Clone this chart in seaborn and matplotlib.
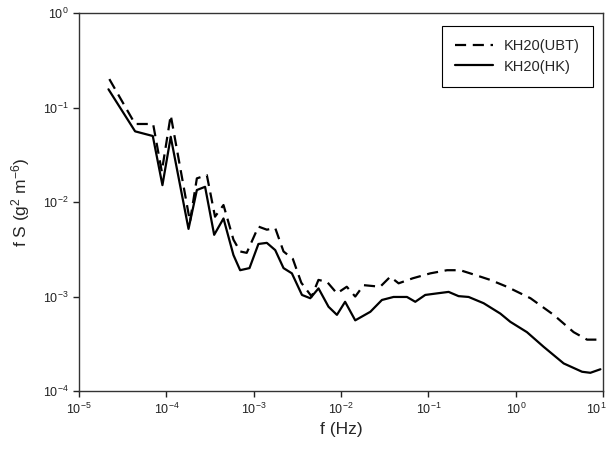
import matplotlib
matplotlib.use("Agg")
import matplotlib.pyplot as plt
import matplotlib.transforms as mtransforms
import seaborn as sns

# frequencies (Hz) and f*S values
freq_ubt = [2.22e-5, 4.38e-5, 7.04e-5, 8.85e-5, 1.12e-4, 1.86e-4, 2.23e-4, 2.9e-4,
            3.6e-4, 4.5e-4, 5.85e-4, 6.98e-4, 8.3e-4, 1.13e-3, 1.41e-3, 1.76e-3,
            2.19e-3, 2.8e-3, 3.5e-3, 4.6e-3, 5.5e-3, 6.9e-3, 8.95e-3, 1.16e-2,
            1.45e-2, 1.81e-2, 2.8e-2, 3.65e-2, 4.55e-2, 6.6e-2, 0.105, 0.163,
            0.231, 0.344, 0.51, 0.79, 1.47, 2.71, 4.59, 6.53, 9.29]
fs_ubt = [0.2, 0.067, 0.067, 0.021, 0.083, 0.0062, 0.0178, 0.0193,
          0.007, 0.0093, 0.004, 0.003, 0.0029, 0.0055, 0.0051, 0.0053,
          0.003, 0.0025, 0.0014, 0.001, 0.0015, 0.00143, 0.00108, 0.00127,
          0.001, 0.00132, 0.00127, 0.00162, 0.00138, 0.00156, 0.00176, 0.0019,
          0.0019, 0.00169, 0.0015, 0.00127, 0.00096, 0.00064, 0.00042, 0.00035, 0.00035]

freq_hk = [2.17e-5, 4.38e-5, 6.98e-5, 9.0e-5, 1.12e-4, 1.79e-4, 2.23e-4, 2.77e-4,
           3.52e-4, 4.5e-4, 5.85e-4, 6.98e-4, 8.93e-4, 1.13e-3, 1.41e-3, 1.76e-3,
           2.19e-3, 2.73e-3, 3.56e-3, 4.43e-3, 5.51e-3, 7.17e-3, 8.95e-3, 1.11e-2,
           1.45e-2, 2.16e-2, 2.93e-2, 3.98e-2, 5.67e-2, 7.06e-2, 9.18e-2, 0.125,
           0.17, 0.221, 0.288, 0.428, 0.665, 0.865, 1.34, 2.08, 3.53, 5.73, 7.13, 9.29]
fs_hk = [0.156, 0.056, 0.05, 0.0151, 0.049, 0.0052, 0.0134, 0.0145,
         0.0045, 0.0067, 0.00275, 0.0019, 0.002, 0.0036, 0.0037, 0.0031,
         0.002, 0.00176, 0.00104, 0.00096, 0.00122, 0.00078, 0.00064, 0.00088,
         0.00056, 0.00069, 0.00092, 0.00099, 0.00099, 0.00088, 0.00104, 0.00108,
         0.00112, 0.00101, 0.00099, 0.00085, 0.00066, 0.00054, 0.00042, 0.000294,
         0.000196, 0.00016, 0.000156, 0.00017]

x_ticks = [1e-5, 1e-4, 1e-3, 1e-2, 1e-1, 1e0, 1e1]
y_ticks = [1e-4, 1e-3, 1e-2, 1e-1, 1e0]

sns.set_style("ticks")
plt.rcParams['font.family'] = ['Liberation Sans', 'DejaVu Sans']
plt.rcParams['mathtext.fontset'] = 'custom'
plt.rcParams['mathtext.rm'] = 'Liberation Sans'
plt.rcParams['mathtext.it'] = 'Liberation Sans'

fig, ax = plt.subplots(figsize=(6.13, 4.5), dpi=100)
fig.subplots_adjust(left=0.129, right=0.984, bottom=0.131, top=0.971)

sns.lineplot(x=freq_ubt, y=fs_ubt, ax=ax, color='black', linewidth=1.6,
             label='KH20(UBT)', sort=False)
sns.lineplot(x=freq_hk, y=fs_hk, ax=ax, color='black', linewidth=1.6,
             label='KH20(HK)', sort=False)
ax.lines[0].set_dashes((5, 3))

ax.set_xscale('log')
ax.set_yscale('log')
ax.set_xticks(x_ticks)
ax.set_yticks(y_ticks)
ax.set_xlim(1e-5, 1e1)
ax.set_ylim(1e-4, 1e0)
ax.minorticks_off()

for s in ax.spines.values():
    s.set_visible(True)
    s.set_linewidth(1.0)
    s.set_color('#333333')
ax.tick_params(direction='out', length=4, width=1, labelsize=9, colors='#222222')

# keep the last x label inside the canvas
last = ax.xaxis.get_major_ticks()[-1].label1
last.set_transform(last.get_transform() +
                   mtransforms.ScaledTranslation(-5 / 72, 0, fig.dpi_scale_trans))

ax.set_xlabel('f (Hz)', fontsize=12.5)
ax.set_ylabel('f S (g$^2$ m$^{-6}$)', fontsize=12.5, labelpad=8)

leg = ax.legend(loc='upper right', bbox_to_anchor=(0.981, 0.966), borderaxespad=0,
                fontsize=10.5, fancybox=False, framealpha=1, edgecolor='black',
                handlelength=2.6, borderpad=0.9, labelspacing=0.45)
leg.get_frame().set_linewidth(0.8)

plt.savefig('out.png', dpi=100)
